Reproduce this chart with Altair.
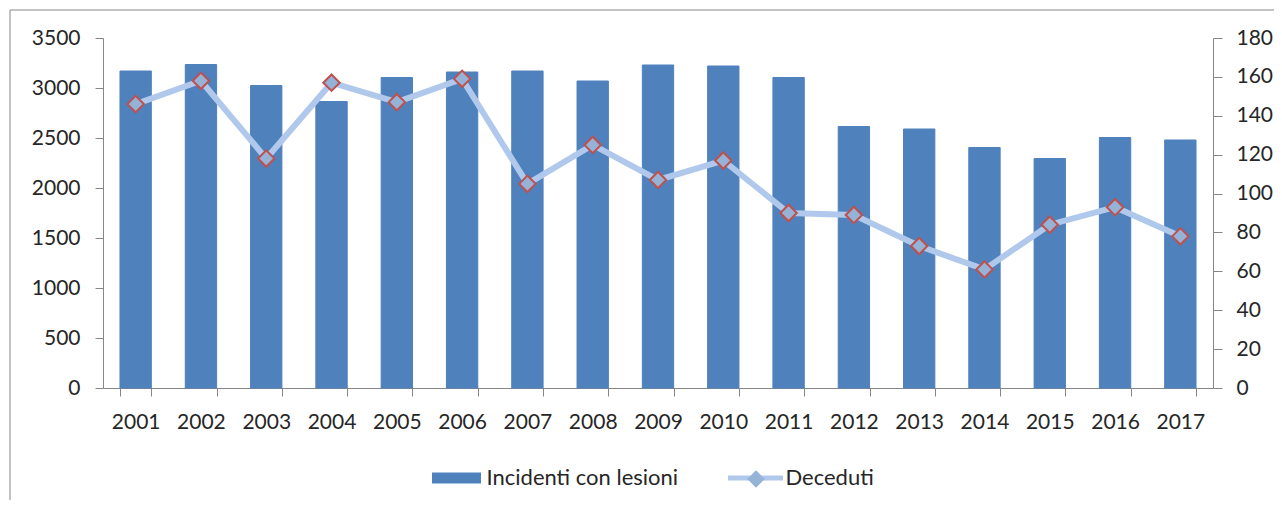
import altair as alt
import pandas as pd

anni = ["2001", "2002", "2003", "2004", "2005", "2006", "2007", "2008", "2009",
        "2010", "2011", "2012", "2013", "2014", "2015", "2016", "2017"]
incidenti = [3170, 3235, 3025, 2865, 3105, 3160, 3170, 3070, 3230,
             3220, 3105, 2615, 2590, 2405, 2295, 2505, 2480]
deceduti = [146, 158, 118, 157, 147, 159, 105, 125, 107,
            117, 90, 89, 73, 61, 84, 93, 78]
serie_barre = "Incidenti con lesioni"
serie_linea = "Deceduti"
marcatore = "Deceduti (marcatore)"
ticks_sx = [0, 500, 1000, 1500, 2000, 2500, 3000, 3500]
ticks_dx = [0, 20, 40, 60, 80, 100, 120, 140, 160, 180]

df = pd.DataFrame({
    "anno": anni,
    "incidenti": incidenti,
    "deceduti": deceduti,
    "k1": serie_barre,
    "k2": serie_linea,
    "k3": marcatore,
})

FONT = "Lato"
GRAY = "#868686"

x_enc = alt.X(
    "anno:N", sort=anni,
    scale=alt.Scale(paddingInner=0.52, paddingOuter=0.26),
    axis=alt.Axis(title=None, labelAngle=0, tickBand="extent", tickSize=8,
                  labelPadding=15, domainColor=GRAY, tickColor=GRAY),
)

frame = alt.Chart(alt.Data(values=[{}])).mark_rect(
    fill="transparent", stroke=GRAY, strokeWidth=1
).encode(
    x=alt.value(-93), x2=alt.value(1300), y=alt.value(-28), y2=alt.value(600)
)

bars = alt.Chart(df).mark_bar(fill="#4f81bd", strokeWidth=1).encode(
    x=x_enc,
    y=alt.Y("incidenti:Q", scale=alt.Scale(domain=[0, 3500], nice=False),
            axis=alt.Axis(title=None, values=ticks_sx, orient="left", tickSize=8,
                          labelPadding=15, format="d")),
    stroke=alt.Stroke("k1:N", scale=alt.Scale(domain=[serie_barre], range=["#4f81bd"]),
                      legend=alt.Legend(title=None, orient="none", legendX=323.5, legendY=410,
                                        symbolType="stroke", symbolSize=2401,
                                        symbolStrokeWidth=11, labelOffset=0, labelLimit=0)),
)

y_dx = alt.Y("deceduti:Q", scale=alt.Scale(domain=[0, 180], nice=False),
             axis=alt.Axis(title=None, values=ticks_dx, orient="right", tickSize=9,
                           labelPadding=14, format="d"))

line = alt.Chart(df).mark_line(strokeWidth=6).encode(
    x=x_enc,
    y=y_dx,
    color=alt.Color("k2:N", scale=alt.Scale(domain=[serie_linea], range=["#b0c8eb"]),
                    legend=alt.Legend(title=None, orient="none", legendX=622.5, legendY=410,
                                      symbolType="stroke", symbolSize=3025,
                                      symbolStrokeWidth=5, labelOffset=0, labelLimit=0)),
)

points = alt.Chart(df).mark_point(filled=True, fill="#95b3d7", stroke="#c0504d",
                                  strokeWidth=2, size=270, opacity=1).encode(
    x=x_enc,
    y=alt.Y("deceduti:Q", scale=alt.Scale(domain=[0, 180], nice=False), axis=None),
    shape=alt.Shape("k3:N", scale=alt.Scale(domain=[marcatore], range=["diamond"]),
                    legend=alt.Legend(title=None, orient="none", legendX=642, legendY=430,
                                      symbolSize=300, symbolFillColor="#95b3d7",
                                      symbolStrokeColor="#c0504d", symbolStrokeWidth=2,
                                      labelExpr="''")),
)

chart = alt.layer(frame, bars, line, points).resolve_scale(
    y="independent"
).properties(
    width=1110, height=350,
    autosize=alt.AutoSizeParams(type="none"),
    padding={"left": 95, "top": 30, "right": 61, "bottom": 112},
).configure_axis(
    labelFont=FONT, labelFontSize=21, labelColor="#262626",
    domainColor=GRAY, tickColor=GRAY, grid=False,
).configure_legend(
    labelFont=FONT, labelFontSize=22, labelColor="#262626", padding=0,
).configure_view(stroke=None)

chart.save("out.html", embed_options={"renderer": "svg", "actions": False})
